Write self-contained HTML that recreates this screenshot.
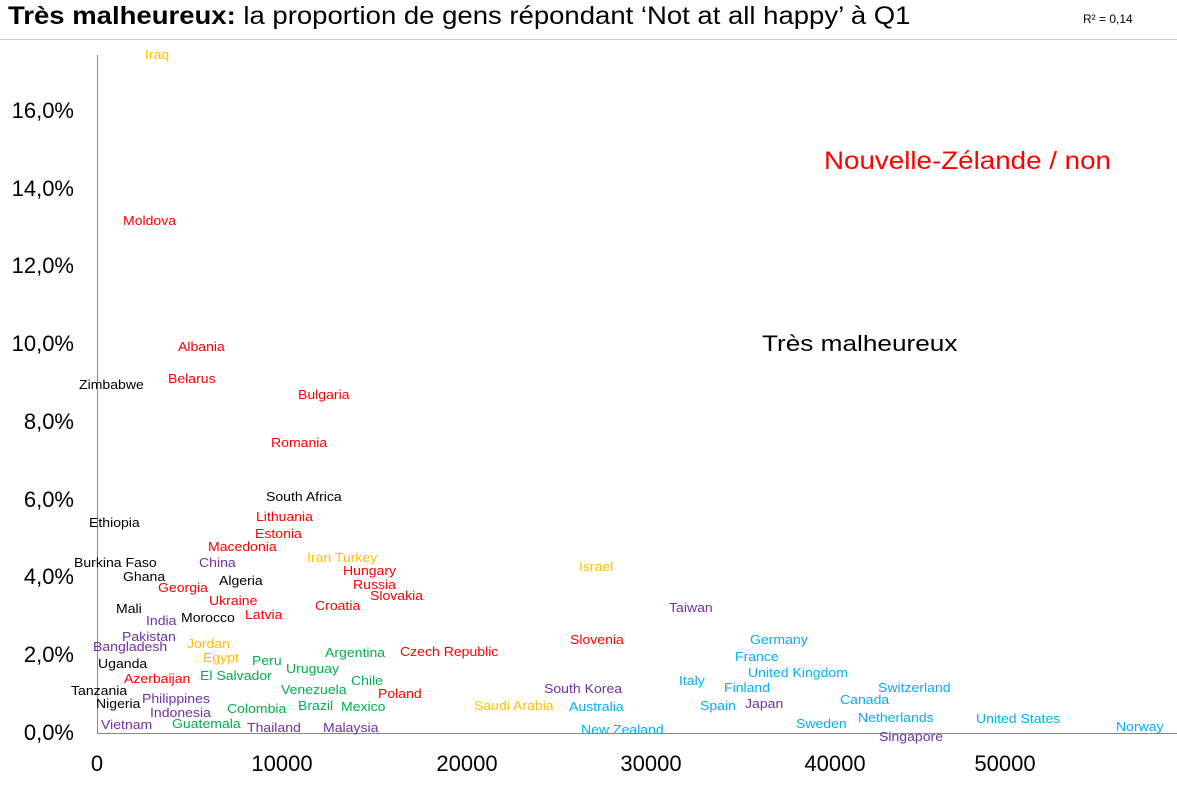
<!DOCTYPE html><html><head><meta charset="utf-8"><style>
body{margin:0;width:1177px;height:785px;background:#fff;position:relative;overflow:hidden;font-family:"Liberation Sans",sans-serif}
.l{position:absolute;font-size:13px;line-height:16px;white-space:nowrap;transform:scaleX(1.08);transform-origin:0 50%}
.R{color:#ff0000}.K{color:#000}.Y{color:#ffc000}.P{color:#7030a0}.G{color:#00b050}.C{color:#00b0f0}
.yt{position:absolute;right:1103px;font-size:22px;line-height:24px;text-align:right}
.xt{position:absolute;top:752px;font-size:22px;line-height:24px;width:100px;text-align:center}
</style></head><body>
<div style="position:absolute;left:8px;top:1px;font-size:25px;line-height:30px;white-space:nowrap;transform:scaleX(1.1);transform-origin:0 50%"><b>Très malheureux:</b> la proportion de gens répondant ‘Not at all happy’ à Q1</div>
<div style="position:absolute;left:1083px;top:12px;font-size:12px">R² = 0,14</div>
<div style="position:absolute;left:0;top:39px;width:1177px;height:1px;background:#ccc"></div>
<div style="position:absolute;left:97px;top:55px;width:1px;height:679px;background:#888"></div>
<div style="position:absolute;left:97px;top:733px;width:1080px;height:1px;background:#888"></div>
<div class="yt" style="top:721px">0,0%</div><div class="yt" style="top:643px">2,0%</div><div class="yt" style="top:565px">4,0%</div><div class="yt" style="top:488px">6,0%</div><div class="yt" style="top:410px">8,0%</div><div class="yt" style="top:332px">10,0%</div><div class="yt" style="top:254px">12,0%</div><div class="yt" style="top:177px">14,0%</div><div class="yt" style="top:99px">16,0%</div>
<div class="xt" style="left:47px">0</div><div class="xt" style="left:232px">10000</div><div class="xt" style="left:417px">20000</div><div class="xt" style="left:601px">30000</div><div class="xt" style="left:785px">40000</div><div class="xt" style="left:955px">50000</div>
<div style="position:absolute;left:824px;top:147px;font-size:25px;color:#ff0000;white-space:nowrap;transform:scaleX(1.11);transform-origin:0 50%">Nouvelle-Zélande / non</div>
<div style="position:absolute;left:762px;top:331px;font-size:22px;white-space:nowrap;transform:scaleX(1.19);transform-origin:0 50%">Très malheureux</div>
<div id="c"></div>
<script>
var d=[["Iraq",145,55,"Y"],["Moldova",123,221,"R"],["Albania",178,347,"R"],["Zimbabwe",79,385,"K"],["Belarus",168,379,"R"],["Bulgaria",298,395,"R"],["Romania",271,443,"R"],["South Africa",266,497,"K"],["Ethiopia",89,523,"K"],["Lithuania",256,517,"R"],["Estonia",255,534,"R"],["Macedonia",208,547,"R"],["Burkina Faso",74,563,"K"],["China",199,563,"P"],["Iran Turkey",307,558,"Y"],["Hungary",343,571,"R"],["Ghana",123,577,"K"],["Algeria",219,581,"K"],["Russia",353,585,"R"],["Georgia",158,588,"R"],["Slovakia",370,596,"R"],["Israel",579,567,"Y"],["Ukraine",209,601,"R"],["Croatia",315,606,"R"],["Mali",116,609,"K"],["Taiwan",669,608,"P"],["Latvia",245,615,"R"],["India",146,621,"P"],["Morocco",181,618,"K"],["Pakistan",122,637,"P"],["Slovenia",570,640,"R"],["Germany",750,640,"C"],["Bangladesh",93,647,"P"],["Jordan",187,644,"Y"],["Argentina",325,653,"G"],["Czech Republic",400,652,"R"],["Egypt",203,658,"Y"],["Peru",252,661,"G"],["France",735,657,"C"],["Uganda",98,664,"K"],["Uruguay",286,669,"G"],["United Kingdom",748,673,"C"],["El Salvador",200,676,"G"],["Azerbaijan",124,679,"R"],["Chile",351,681,"G"],["Italy",679,681,"C"],["Switzerland",878,688,"C"],["Finland",724,688,"C"],["South Korea",544,689,"P"],["Tanzania",71,691,"K"],["Venezuela",281,690,"G"],["Poland",378,694,"R"],["Canada",840,700,"C"],["Philippines",142,699,"P"],["Japan",745,704,"P"],["Nigeria",96,704,"K"],["Spain",700,706,"C"],["Brazil",298,706,"G"],["Mexico",341,707,"G"],["Saudi Arabia",474,706,"Y"],["Australia",569,707,"C"],["Indonesia",150,713,"P"],["Netherlands",858,718,"C"],["United States",976,719,"C"],["Vietnam",101,725,"P"],["Guatemala",172,724,"G"],["Sweden",796,724,"C"],["Colombia",227,709,"G"],["New Zealand",581,730,"C"],["Thailand",247,728,"P"],["Malaysia",323,728,"P"],["Singapore",879,737,"P"],["Norway",1116,727,"C"]];
var h="";d.forEach(function(e){h+='<div class="l '+e[3]+'" style="left:'+e[1]+'px;top:'+(e[2]-8)+'px">'+e[0]+'</div>';});
document.getElementById("c").innerHTML=h;
</script>
</body></html>
